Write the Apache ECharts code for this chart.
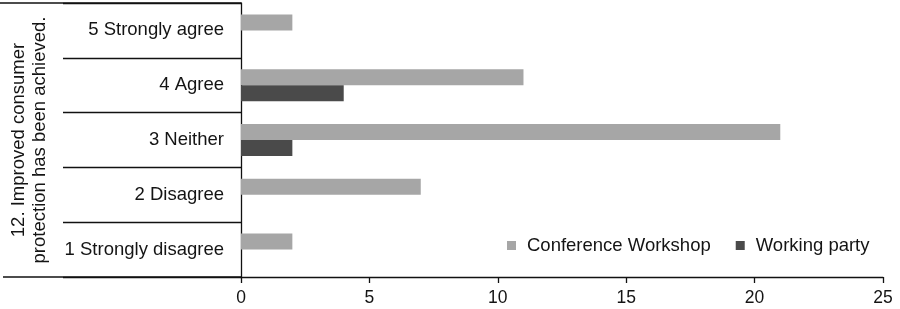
<!DOCTYPE html>
<html><head><meta charset="utf-8">
<script src="https://cdn.jsdelivr.net/npm/echarts@6/dist/echarts.min.js"></script>
<style>html,body{margin:0;padding:0;background:#fff}#c{width:900px;height:309px}</style>
</head><body><div id="c"></div>
<script>
const categories = ['5 Strongly agree', '4 Agree', '3 Neither', '2 Disagree', '1 Strongly disagree'];
const conferenceWorkshop = [2, 11, 21, 7, 2];
const workingParty = [0, 4, 2, 0, 0];
const xTicks = { min: 0, max: 25, interval: 5 };
const groupLabel = '12. Improved consumer\nprotection has been achieved.';
const FONT = '"Liberation Sans", Arial, sans-serif';

const chart = echarts.init(document.getElementById('c'), null, { renderer: 'canvas' });
chart.setOption({
  animation: false,
  backgroundColor: '#fff',
  textStyle: { fontFamily: FONT },
  grid: { left: 241, right: 17, top: 3, bottom: 32, containLabel: false },
  legend: {
    data: ['Conference Workshop', 'Working party'],
    left: 502, top: 231,
    icon: 'rect', itemWidth: 9, itemHeight: 9, itemGap: 25,
    textStyle: { fontFamily: FONT, fontSize: 18.5, color: '#141414', padding: [0, 0, 0, 6] }
  },
  xAxis: {
    type: 'value', min: xTicks.min, max: xTicks.max, interval: xTicks.interval,
    axisLine: { show: true, lineStyle: { color: '#111', width: 1.3 } },
    axisTick: { show: true, length: 6, lineStyle: { color: '#111', width: 1.3 } },
    axisLabel: { fontFamily: FONT, fontSize: 17.5, color: '#141414', margin: 12 },
    splitLine: { show: false }
  },
  yAxis: {
    type: 'category', data: categories, inverse: true,
    axisLine: { show: true, lineStyle: { color: '#111', width: 1.3 } },
    axisTick: { show: true, length: 178, lineStyle: { color: '#111', width: 1.3 } },
    axisLabel: { fontFamily: FONT, fontSize: 18.5, color: '#141414', margin: 17 }
  },
  graphic: [
    { type: 'line', shape: { x1: 0, y1: 3, x2: 241, y2: 3 }, style: { stroke: '#111', lineWidth: 1.3 } },
    { type: 'line', shape: { x1: 3, y1: 277, x2: 241, y2: 277 }, style: { stroke: '#111', lineWidth: 1.3 } },
    { type: 'text', x: 29, y: 140, rotation: Math.PI / 2,
      style: { text: groupLabel, font: '18.5px ' + FONT, fill: '#141414', align: 'center', verticalAlign: 'middle', lineHeight: 21 } }
  ],
  series: [
    { name: 'Conference Workshop', type: 'bar', data: conferenceWorkshop, barWidth: 16, barGap: '0%',
      itemStyle: { color: '#a6a6a6' } },
    { name: 'Working party', type: 'bar', data: workingParty, barWidth: 16, barGap: '0%',
      itemStyle: { color: '#4a4a4a' } }
  ]
});
</script></body></html>
